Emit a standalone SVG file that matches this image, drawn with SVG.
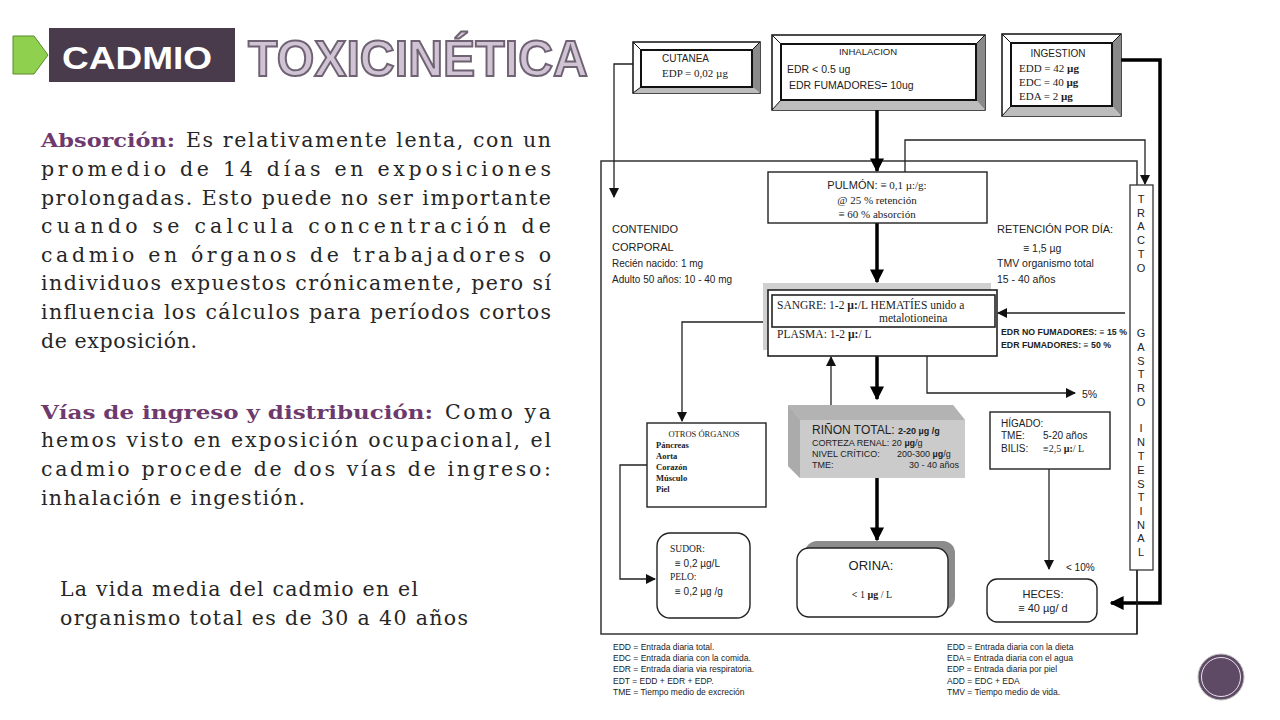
<svg xmlns="http://www.w3.org/2000/svg" width="1280" height="720" viewBox="0 0 1280 720">
<defs>
<marker id="ah" viewBox="0 0 10 10" refX="9" refY="5" markerWidth="10" markerHeight="10" markerUnits="userSpaceOnUse" orient="auto"><path d="M0,0 L10,5 L0,10 z" fill="#111"/></marker>
<marker id="ahb" viewBox="0 0 10 10" refX="9" refY="5" markerWidth="14" markerHeight="14" markerUnits="userSpaceOnUse" orient="auto"><path d="M0,0 L10,5 L0,10 z" fill="#000"/></marker>
</defs>
<style>
.para{font-family:"DejaVu Serif","Liberation Serif",serif;font-size:20.5px;fill:#262626}
.lbl{font-family:"DejaVu Serif","Liberation Serif",serif;font-size:19px;font-weight:bold;fill:#6e3a6e}
.s{font-family:"Liberation Sans",Arial,sans-serif;fill:#222}
.r{font-family:"Liberation Serif","Times New Roman",serif;fill:#222}
.thin{fill:none;stroke:#222;stroke-width:1.3}
.thick{fill:none;stroke:#000;stroke-width:3.5}
.box{fill:#fff;stroke:#222;stroke-width:1.4}
.tr{font-family:"Liberation Sans",Arial,sans-serif;font-size:11px;fill:#222;text-anchor:middle}
.lg{font-family:"Liberation Sans",Arial,sans-serif;font-size:8.5px;fill:#1a1a1a}
</style>
<rect width="1280" height="720" fill="#fff"/>

<g id="title">
<polygon points="13,36 34,36 48,55 34,74 13,74" fill="#8fd14f" stroke="#5a8a2a" stroke-width="1"/>
<rect x="49" y="28" width="186" height="54" fill="#4a3b4c"/>
<text x="62" y="69" class="s" font-size="32" font-weight="bold" style="fill:#fff" textLength="150" lengthAdjust="spacingAndGlyphs">CADMIO</text>
<text x="248" y="76" font-family="Liberation Sans,Arial,sans-serif" font-size="50" font-weight="bold" fill="#cfc3d4" stroke="#6f6373" stroke-width="2" textLength="340" lengthAdjust="spacingAndGlyphs">TOXICINÉTICA</text>
</g>

<g id="texto">
<text x="41" y="147" class="lbl" textLength="134" lengthAdjust="spacingAndGlyphs">Absorción:</text>
<text x="186" y="147" class="para" textLength="365" lengthAdjust="spacing">Es relativamente lenta, con un</text>
<text x="41" y="176" class="para" textLength="510" lengthAdjust="spacing">promedio de 14 días en exposiciones</text>
<text x="41" y="205" class="para" textLength="510" lengthAdjust="spacing">prolongadas. Esto puede no ser importante</text>
<text x="41" y="233" class="para" textLength="510" lengthAdjust="spacing">cuando se calcula concentración de</text>
<text x="41" y="262" class="para" textLength="510" lengthAdjust="spacing">cadmio en órganos de trabajadores o</text>
<text x="41" y="290" class="para" textLength="510" lengthAdjust="spacing">individuos expuestos crónicamente, pero sí</text>
<text x="41" y="319" class="para" textLength="510" lengthAdjust="spacing">influencia los cálculos para períodos cortos</text>
<text x="41" y="348" class="para" textLength="156" lengthAdjust="spacing">de exposición.</text>
<text x="41" y="419" class="lbl" textLength="392" lengthAdjust="spacingAndGlyphs">Vías de ingreso y distribución:</text>
<text x="445" y="419" class="para" textLength="106" lengthAdjust="spacing">Como ya</text>
<text x="41" y="447" class="para" textLength="510" lengthAdjust="spacing">hemos visto en exposición ocupacional, el</text>
<text x="41" y="476" class="para" textLength="510" lengthAdjust="spacing">cadmio procede de dos vías de ingreso:</text>
<text x="41" y="505" class="para" textLength="264" lengthAdjust="spacing">inhalación e ingestión.</text>
<text x="60" y="596" class="para" textLength="358" lengthAdjust="spacing">La vida media del cadmio en el</text>
<text x="60" y="625" class="para" textLength="408" lengthAdjust="spacing">organismo total es de 30 a 40 años</text>
</g>

<g id="marco">
<rect x="601" y="161" width="536" height="473" fill="none" stroke="#333" stroke-width="1.5"/>
</g>

<g id="conectores">
<polyline class="thin" points="633,64 614,64 614,197" marker-end="url(#ah)"/>
<line class="thick" x1="877" y1="110" x2="877" y2="171" marker-end="url(#ahb)"/>
<polyline class="thin" points="905,172 905,140 1145,140 1145,184" marker-end="url(#ah)"/>
<line class="thick" x1="877" y1="223" x2="877" y2="282" marker-end="url(#ahb)"/>
<polyline class="thick" points="1121,60 1160,60 1160,603 1111,603" marker-end="url(#ahb)"/>
<line class="thin" x1="1125" y1="313" x2="998" y2="313" marker-end="url(#ah)"/>
<polyline class="thin" points="763,322 682,322 682,421" marker-end="url(#ah)"/>
<line class="thin" x1="831" y1="405" x2="831" y2="357" marker-end="url(#ah)"/>
<line class="thick" x1="877" y1="356" x2="877" y2="399" marker-end="url(#ahb)"/>
<polyline class="thin" points="927,356 927,393 1075,393" marker-end="url(#ah)"/>
<polyline class="thin" points="647,465 620,465 620,579 655,579" marker-end="url(#ah)"/>
<line class="thick" x1="877" y1="478" x2="877" y2="540" marker-end="url(#ahb)"/>
<line class="thin" x1="1049" y1="469" x2="1049" y2="569" marker-end="url(#ah)"/>
<line class="thin" x1="1137" y1="570" x2="1137" y2="634"/>
<text x="1082" y="398" class="s" font-size="10.5">5%</text>
<text x="1066" y="571" class="s" font-size="10">&lt; 10%</text>
</g>

<g id="cutanea">
<rect x="633" y="42" width="127" height="51" fill="#fff" stroke="#111" stroke-width="1.5"/>
<polygon points="760,42 752,50 752,87 760,93" fill="#8a8a8a"/>
<polygon points="633,93 641,87 752,87 760,93" fill="#bdbdbd"/>
<line x1="633" y1="42" x2="641" y2="50" stroke="#111"/>
<line x1="760" y1="42" x2="752" y2="50" stroke="#111"/>
<line x1="633" y1="93" x2="641" y2="87" stroke="#111"/>
<rect x="641" y="50" width="111" height="37" fill="#fff" stroke="#111" stroke-width="2"/>
<text x="662" y="62" class="s" font-size="10">CUTANEA</text>
<text x="662" y="77" class="r" font-size="11">EDP = 0,02 µg</text>
</g>

<g id="inhalacion">
<rect x="772" y="35" width="213" height="75" fill="#fff" stroke="#111" stroke-width="1.5"/>
<polygon points="985,35 976,44 976,100 985,110" fill="#8a8a8a"/>
<polygon points="772,110 781,100 976,100 985,110" fill="#bdbdbd"/>
<line x1="772" y1="35" x2="781" y2="44" stroke="#111"/>
<line x1="985" y1="35" x2="976" y2="44" stroke="#111"/>
<line x1="772" y1="110" x2="781" y2="100" stroke="#111"/>
<rect x="781" y="44" width="195" height="56" fill="#fff" stroke="#111" stroke-width="2"/>
<text x="868" y="55" class="s" font-size="9.5" text-anchor="middle">INHALACION</text>
<text x="787" y="73" class="s" font-size="10.5">EDR &lt; 0.5 ug</text>
<text x="789" y="89" class="s" font-size="10.5">EDR FUMADORES= 10ug</text>
</g>

<g id="ingestion">
<rect x="1002" y="34" width="119" height="82" fill="#fff" stroke="#111" stroke-width="1.5"/>
<polygon points="1121,34 1112,43 1112,106 1121,116" fill="#8a8a8a"/>
<polygon points="1002,116 1011,106 1112,106 1121,116" fill="#bdbdbd"/>
<line x1="1002" y1="34" x2="1011" y2="43" stroke="#111"/>
<line x1="1121" y1="34" x2="1112" y2="43" stroke="#111"/>
<line x1="1002" y1="116" x2="1011" y2="106" stroke="#111"/>
<rect x="1011" y="43" width="101" height="63" fill="#fff" stroke="#111" stroke-width="2"/>
<text x="1058" y="57" class="s" font-size="10" text-anchor="middle">INGESTION</text>
<text x="1019" y="72" class="r" font-size="11">EDD = 42 <tspan font-weight="bold">µg</tspan></text>
<text x="1019" y="86" class="r" font-size="11">EDC = 40 <tspan font-weight="bold">µg</tspan></text>
<text x="1019" y="100" class="r" font-size="11">EDA =  2 <tspan font-weight="bold">µg</tspan></text>
</g>

<g id="contenido">
<text x="612" y="233" class="s" font-size="11">CONTENIDO</text>
<text x="612" y="251" class="s" font-size="11">CORPORAL</text>
<text x="612" y="267" class="s" font-size="10">Recién nacido: 1 mg</text>
<text x="612" y="283" class="s" font-size="10">Adulto 50 años: 10 - 40 mg</text>
</g>

<g id="retencion">
<text x="997" y="233" class="s" font-size="11">RETENCIÓN POR DÍA:</text>
<text x="1023" y="252" class="s" font-size="10.5">≡   1,5 µg</text>
<text x="997" y="267" class="s" font-size="10.5">TMV organismo total</text>
<text x="997" y="283" class="s" font-size="10.5">15 - 40 años</text>
</g>

<g id="pulmon">
<rect x="768" y="172" width="219" height="51" class="box"/>
<text x="877" y="189" class="r" font-size="11" text-anchor="middle"><tspan class="s">PULMÓN:</tspan> ≡ 0,1 µ:/g:</text>
<text x="877" y="204" class="r" font-size="11" text-anchor="middle">@ 25 % retención</text>
<text x="877" y="218" class="r" font-size="11" text-anchor="middle">≡  60 % absorción</text>
</g>

<g id="tracto">
<rect x="1130" y="185" width="23" height="385" fill="#fff" stroke="#333" stroke-width="1.3"/>
<text class="tr"><tspan x="1141" y="203">T</tspan><tspan x="1141" y="217">R</tspan><tspan x="1141" y="230">A</tspan><tspan x="1141" y="244">C</tspan><tspan x="1141" y="258">T</tspan><tspan x="1141" y="272">O</tspan><tspan x="1141" y="337">G</tspan><tspan x="1141" y="351">A</tspan><tspan x="1141" y="365">S</tspan><tspan x="1141" y="378">T</tspan><tspan x="1141" y="392">R</tspan><tspan x="1141" y="406">O</tspan><tspan x="1141" y="432">I</tspan><tspan x="1141" y="446">N</tspan><tspan x="1141" y="460">T</tspan><tspan x="1141" y="474">E</tspan><tspan x="1141" y="488">S</tspan><tspan x="1141" y="501">T</tspan><tspan x="1141" y="515">I</tspan><tspan x="1141" y="529">N</tspan><tspan x="1141" y="542">A</tspan><tspan x="1141" y="556">L</tspan></text>
</g>

<g id="sangre">
<rect x="763" y="283" width="228" height="67" fill="#d0d0d0"/>
<rect x="768" y="290" width="229" height="66" fill="#fff" stroke="#222" stroke-width="1.6"/>
<rect x="772" y="295" width="223" height="32" fill="none" stroke="#222" stroke-width="1.6"/>
<text x="777" y="309" class="r" font-size="11.5">SANGRE: 1-2 <tspan font-weight="bold">µ:</tspan>/L HEMATÍES unido a</text>
<text x="879" y="322" class="r" font-size="11.5">metalotioneina</text>
<text x="777" y="338" class="r" font-size="11.5">PLASMA: 1-2 <tspan font-weight="bold">µ:</tspan>/ L</text>
<text x="1001" y="335" class="s" font-size="8.5" font-weight="bold" textLength="126" lengthAdjust="spacingAndGlyphs">EDR NO FUMADORES: ≡ 15 %</text>
<text x="1001" y="348" class="s" font-size="8.5" font-weight="bold" textLength="110" lengthAdjust="spacingAndGlyphs">EDR FUMADORES: ≡ 50 %</text>
</g>

<g id="otros">
<rect x="647" y="423" width="119" height="84" class="box"/>
<text x="704" y="437" class="r" font-size="8.5" text-anchor="middle">OTROS ÓRGANOS</text>
<text class="r" font-size="8.5" font-weight="bold"><tspan x="656" y="448">Páncreas</tspan><tspan x="656" y="459">Aorta</tspan><tspan x="656" y="470">Corazón</tspan><tspan x="656" y="481">Músculo</tspan><tspan x="656" y="492">Piel</tspan></text>
</g>

<g id="rinon">
<polygon points="788,405 953,405 965,420 965,478 800,478 788,466" fill="#cbcbcb"/>
<polygon points="788,405 953,405 965,420 800,420" fill="#b3b3b3"/>
<polygon points="788,405 800,420 800,478 788,466" fill="#ababab"/>
<text x="812" y="434" class="s" font-size="12">RIÑON TOTAL: <tspan font-size="9" font-weight="bold">2-20 µg /g</tspan></text>
<text x="812" y="446" class="s" font-size="9">CORTEZA RENAL: 20 <tspan font-weight="bold">µg</tspan>/g</text>
<text x="812" y="457" class="s" font-size="9">NIVEL CRÍTICO:</text>
<text x="897" y="457" class="s" font-size="9">200-300 <tspan font-weight="bold">µg</tspan>/g</text>
<text x="812" y="468" class="s" font-size="9">TME:</text>
<text x="959" y="468" class="s" font-size="9" text-anchor="end">30 - 40 años</text>
</g>

<g id="higado">
<rect x="990" y="412" width="120" height="57" class="box"/>
<text x="1001" y="427" class="s" font-size="10">HÍGADO:</text>
<text x="1001" y="439" class="s" font-size="10">TME:</text>
<text x="1043" y="439" class="s" font-size="10">5-20 años</text>
<text x="1001" y="452" class="s" font-size="10">BILIS:</text>
<text x="1043" y="452" class="r" font-size="10">≡2,5 <tspan font-weight="bold">µ:</tspan>/ L</text>
</g>

<g id="sudor">
<rect x="657" y="533" width="93" height="85" rx="13" class="box"/>
<text x="670" y="552" class="r" font-size="9.5">SUDOR:</text>
<text x="675" y="567" class="s" font-size="10">≡ 0,2 µg/L</text>
<text x="670" y="580" class="r" font-size="9.5">PELO:</text>
<text x="675" y="595" class="s" font-size="10">≡ 0,2 µg /g</text>
</g>

<g id="orina">
<rect x="805" y="541" width="150" height="69" rx="12" fill="#8c8c8c"/>
<rect x="797" y="548" width="151" height="69" rx="12" class="box"/>
<text x="871" y="570" class="s" font-size="13" text-anchor="middle">ORINA:</text>
<text x="872" y="598" class="r" font-size="10" text-anchor="middle"><tspan font-weight="bold">&lt;</tspan> 1 <tspan font-weight="bold">µg</tspan> / L</text>
</g>

<g id="heces">
<rect x="987" y="579" width="110" height="43" rx="10" class="box"/>
<text x="1043" y="598" class="s" font-size="11" text-anchor="middle">HECES:</text>
<text x="1043" y="612" class="s" font-size="11" text-anchor="middle">≡ 40 µg/ d</text>
</g>

<g id="leyenda">
<text class="lg"><tspan x="613" y="650">EDD = Entrada diaria total.</tspan><tspan x="613" y="661">EDC = Entrada diaria con la comida.</tspan><tspan x="613" y="672">EDR = Entrada diaria via respiratoria.</tspan><tspan x="613" y="684">EDT = EDD + EDR + EDP.</tspan><tspan x="613" y="695">TME = Tiempo medio de excreción</tspan></text>
<text class="lg"><tspan x="947" y="650">EDD = Entrada diaria con la dieta</tspan><tspan x="947" y="661">EDA = Entrada diaria con el agua</tspan><tspan x="947" y="672">EDP = Entrada diaria por piel</tspan><tspan x="947" y="684">ADD = EDC + EDA</tspan><tspan x="947" y="695">TMV = Tiempo medio de vida.</tspan></text>
</g>

<g id="boton">
<circle cx="1221" cy="677" r="23" fill="#5f4a66" stroke="#bbb" stroke-width="1"/>
<circle cx="1221" cy="677" r="19.5" fill="none" stroke="#e8e0ea" stroke-width="1"/>
</g>
</svg>
